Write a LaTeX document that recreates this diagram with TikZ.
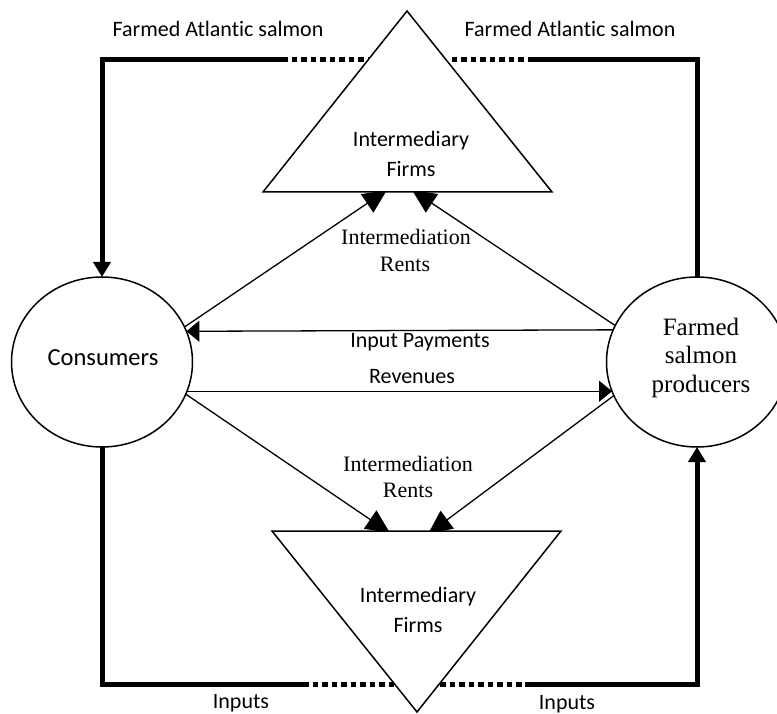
\documentclass[tikz,border=0pt]{standalone}
\usepackage{fontspec}
\newfontfamily\carlito[Ligatures=NoCommon]{Carlito}
\newfontfamily\tnr{Liberation Serif}
\usetikzlibrary{arrows.meta,backgrounds,shapes.geometric}
\begin{document}
\begin{tikzpicture}[x=1pt,y=-1pt,
  thickline/.style={line width=5pt},
  dotline/.style={line width=5pt, dash pattern=on 5.5pt off 4pt},
  conn/.style={line width=1.3pt},
  bighead/.style={-{Triangle[length=24pt,width=22pt]}},
  midhead/.style={-{Triangle[length=13pt,width=21pt]}},
  thickhead/.style={-{Triangle[length=15pt,width=17pt]}},
  actor/.style={ellipse, draw, line width=1.5pt, fill=white, minimum width=181pt, minimum height=170pt, inner sep=0pt, outer sep=0pt},
  tri/.style={draw, line width=1.5pt, fill=white, line join=miter},
  lbl/.style={font=\carlito\fontsize{22}{26}\selectfont, anchor=base, inner sep=0pt},
  big/.style={font=\carlito\fontsize{24.5}{28}\selectfont, anchor=base, inner sep=0pt},
  ser/.style={font=\tnr\fontsize{22}{26}\selectfont, anchor=base, inner sep=0pt},
  serbig/.style={font=\tnr\fontsize{25}{29}\selectfont, anchor=base, inner sep=0pt}
]
\useasboundingbox (0,0) rectangle (777,714);

% actors
\node[actor] (cons) at (102,362) {};
\node[actor] (prod) at (697,362) {};

% coordinates
\coordinate (ctl) at (102,60);
\coordinate (dl1) at (283,60);
\coordinate (dl2) at (373,60);
\coordinate (ctr) at (697,60);
\coordinate (dr1) at (533,60);
\coordinate (dr2) at (448,60);
\coordinate (cbl) at (102,684);
\coordinate (db1) at (303,684);
\coordinate (db2) at (394,684);
\coordinate (cbr) at (697,684);
\coordinate (dbr1) at (525,684);
\coordinate (dbr2) at (440,684);
\coordinate (ta1) at (387,190);
\coordinate (ta2) at (412,190);
\coordinate (ba1) at (390,533);
\coordinate (ba2) at (428,534);

\begin{scope}[on background layer]
  % thick flows
  \draw[dotline] (dl2) -- (dl1);
  \draw[thickline, thickhead] (dl1) -- (ctl) -- (cons.north);
  \draw[thickline] (prod.north) -- (ctr) -- (dr1);
  \draw[dotline] (dr1) -- (dr2);
  \draw[thickline] (cons.south) -- (cbl) -- (db1);
  \draw[dotline] (db1) -- (db2);
  \draw[dotline] (dbr2) -- (dbr1);
  \draw[thickline, thickhead] (dbr1) -- (cbr) -- (prod.south);
  % diagonals
  \draw[conn, bighead] (cons.23) -- (ta1);
  \draw[conn, bighead] (prod.156) -- (ta2);
  \draw[conn, bighead] (cons.-21) -- (ba1);
  \draw[conn, bighead] (prod.202) -- (ba2);
  % horizontals
  \draw[conn, midhead] (prod.159.11) -- (cons.20.89);
  \draw[conn, midhead] (cons.-19.51) -- (prod.199.51);
\end{scope}

% intermediary triangles
\draw[tri] (407,11) -- (552,192) -- (263,192) -- cycle;
\draw[tri] (272,531) -- (561,531) -- (417,712) -- cycle;

% texts
\node[lbl] (fas1) at (218,37) {Farmed Atlantic salmon};
\node[lbl] (fas2) at (570,37) {Farmed Atlantic salmon};
\node[lbl] (if1a) at (411,147) {Intermediary};
\node[lbl] (if1b) at (411,177) {Firms};
\node[ser] (ir1a) at (406,245) {Intermediation};
\node[ser] (ir1b) at (405,272) {Rents};
\node[lbl] (ip) at (420,348) {Input Payments};
\node[lbl] (rev) at (412,383) {Revenues};
\node[big] (tcons) at (103,365) {Consumers};
\node[serbig] (tp1) at (701,335) {Farmed};
\node[serbig] (tp2) at (701,363) {salmon};
\node[serbig] (tp3) at (701,392) {producers};
\node[ser] (ir2a) at (408,471) {Intermediation};
\node[ser] (ir2b) at (408,497) {Rents};
\node[lbl] (if2a) at (418,602) {Intermediary};
\node[lbl] (if2b) at (418,632) {Firms};
\node[lbl] (inp1) at (241,708) {Inputs};
\node[lbl] (inp2) at (567,709) {Inputs};
\end{tikzpicture}
\end{document}
